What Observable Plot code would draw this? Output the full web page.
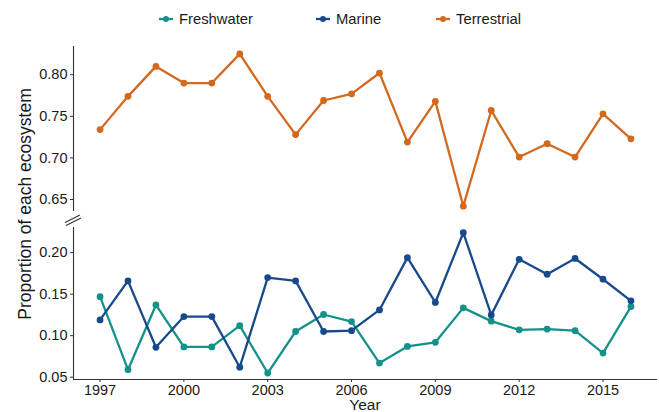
<!DOCTYPE html>
<html>
<head>
<meta charset="utf-8">
<script src="https://cdn.jsdelivr.net/npm/d3@7"></script>
<script src="https://cdn.jsdelivr.net/npm/@observablehq/plot@0.6"></script>
<style>
  html, body { margin: 0; padding: 0; background: #fff; }
  #wrap { position: relative; width: 659px; height: 412px; font-family: "Liberation Sans", Arial, sans-serif; color: #1a1a1a; overflow: hidden; }
  #top, #bottom { position: absolute; left: 0; }
  #top { top: 40px; }
  #bottom { top: 222px; }
  .leg { position: absolute; top: 11px; display: flex; align-items: center; font-size: 14.8px; white-space: nowrap; }
  .leg svg { margin-right: 5px; }
  #ytitle { position: absolute; left: 25px; top: 204px; transform: translate(-50%, -50%) rotate(-90deg); font-size: 17.5px; white-space: nowrap; }
  #xtitle { position: absolute; left: 365px; top: 397px; transform: translateX(-50%); font-size: 15.5px; line-height: 1; white-space: nowrap; }
  #breaks { position: absolute; left: 0; top: 0; pointer-events: none; }
</style>
</head>
<body>
<div id="wrap">
  <div id="legend"></div>
  <div id="top"></div>
  <div id="bottom"></div>
  <div id="ytitle">Proportion of each ecosystem</div>
  <div id="xtitle">Year</div>
</div>
<script>
const years = [1997, 1998, 1999, 2000, 2001, 2002, 2003, 2004, 2005, 2006, 2007, 2008, 2009, 2010, 2011, 2012, 2013, 2014, 2015, 2016];
const freshwater = [0.147, 0.059, 0.137, 0.0865, 0.0865, 0.112, 0.055, 0.105, 0.1255, 0.117, 0.067, 0.087, 0.092, 0.1335, 0.1175, 0.107, 0.108, 0.106, 0.079, 0.135];
const marine = [0.119, 0.166, 0.086, 0.123, 0.123, 0.062, 0.170, 0.166, 0.105, 0.106, 0.131, 0.194, 0.140, 0.224, 0.125, 0.192, 0.174, 0.193, 0.168, 0.142];
const terrestrial = [0.734, 0.774, 0.810, 0.790, 0.790, 0.825, 0.774, 0.728, 0.769, 0.777, 0.802, 0.719, 0.768, 0.642, 0.757, 0.701, 0.717, 0.701, 0.753, 0.723];
const seriesNames = ["Freshwater", "Marine", "Terrestrial"];
const seriesColors = ["#16918a", "#184a8b", "#d2691f"];
const xTicks = [1997, 2000, 2003, 2006, 2009, 2012, 2015];
const topTicks = [0.65, 0.70, 0.75, 0.80];
const bottomTicks = [0.05, 0.10, 0.15, 0.20];

const rows = [];
years.forEach((yr, i) => {
  rows.push({year: yr, series: "Freshwater", value: freshwater[i]});
  rows.push({year: yr, series: "Marine", value: marine[i]});
  rows.push({year: yr, series: "Terrestrial", value: terrestrial[i]});
});
const topRows = rows.filter(d => d.series === "Terrestrial");
const bottomRows = rows.filter(d => d.series !== "Terrestrial");

const xDomain = [1996.05, 2016.95];
const color = {domain: seriesNames, range: seriesColors};
const style = {fontFamily: "'Liberation Sans', Arial, sans-serif", fontSize: "14.5px", color: "#1a1a1a", background: "transparent", overflow: "visible"};

const topPlot = Plot.plot({
  width: 659, height: 182,
  marginLeft: 73, marginRight: 2, marginTop: 6, marginBottom: 11,
  style,
  x: {domain: xDomain, axis: null},
  y: {domain: [0.6356, 0.8339]},
  color,
  marks: [
    Plot.axisY({ticks: topTicks, tickFormat: d3.format(".2f"), tickSize: 3, tickPadding: 3, label: null, stroke: "#333"}),
    Plot.ruleX([xDomain[0]], {stroke: "#333", strokeWidth: 1.1}),
    Plot.line(topRows, {x: "year", y: "value", stroke: "series", strokeWidth: 2.3}),
    Plot.dot(topRows, {x: "year", y: "value", fill: "series", r: 3.4})
  ]
});
document.getElementById("top").appendChild(topPlot);

const bottomPlot = Plot.plot({
  width: 659, height: 190,
  marginLeft: 73, marginRight: 2, marginTop: 5, marginBottom: 33,
  style,
  x: {domain: xDomain},
  y: {domain: [0.0472, 0.2303]},
  color,
  marks: [
    Plot.axisY({ticks: bottomTicks, tickFormat: d3.format(".2f"), tickSize: 3, tickPadding: 3, label: null, stroke: "#333"}),
    Plot.axisX({ticks: xTicks, tickFormat: d => String(d), tickSize: 3, tickPadding: 2, label: null, stroke: "#333"}),
    Plot.ruleX([xDomain[0]], {stroke: "#333", strokeWidth: 1.1}),
    Plot.ruleY([0.0472], {stroke: "#333", strokeWidth: 1.1}),
    Plot.line(bottomRows, {x: "year", y: "value", stroke: "series", z: "series", strokeWidth: 2.3}),
    Plot.dot(bottomRows, {x: "year", y: "value", fill: "series", r: 3.4})
  ]
});
document.getElementById("bottom").appendChild(bottomPlot);

// legend
const legend = document.getElementById("legend");
const legendLeft = [158, 315, 435];
seriesNames.forEach((name, i) => {
  const div = document.createElement("div");
  div.className = "leg";
  div.style.left = legendLeft[i] + "px";
  div.innerHTML = `<svg width="16" height="10"><line x1="1" x2="15" y1="5" y2="5" stroke="${seriesColors[i]}" stroke-width="2.3"/><circle cx="8" cy="5" r="3" fill="${seriesColors[i]}"/></svg><span>${name}</span>`;
  legend.appendChild(div);
});

// axis break marks
const brk = d3.select("#wrap").append("svg").attr("id", "breaks").attr("width", 659).attr("height", 412);
brk.append("line").attr("x1", 65).attr("y1", 222.5).attr("x2", 80).attr("y2", 215).attr("stroke", "#333").attr("stroke-width", 1.1);
brk.append("line").attr("x1", 66).attr("y1", 225.5).attr("x2", 81).attr("y2", 218).attr("stroke", "#333").attr("stroke-width", 1.1);
</script>
</body>
</html>
